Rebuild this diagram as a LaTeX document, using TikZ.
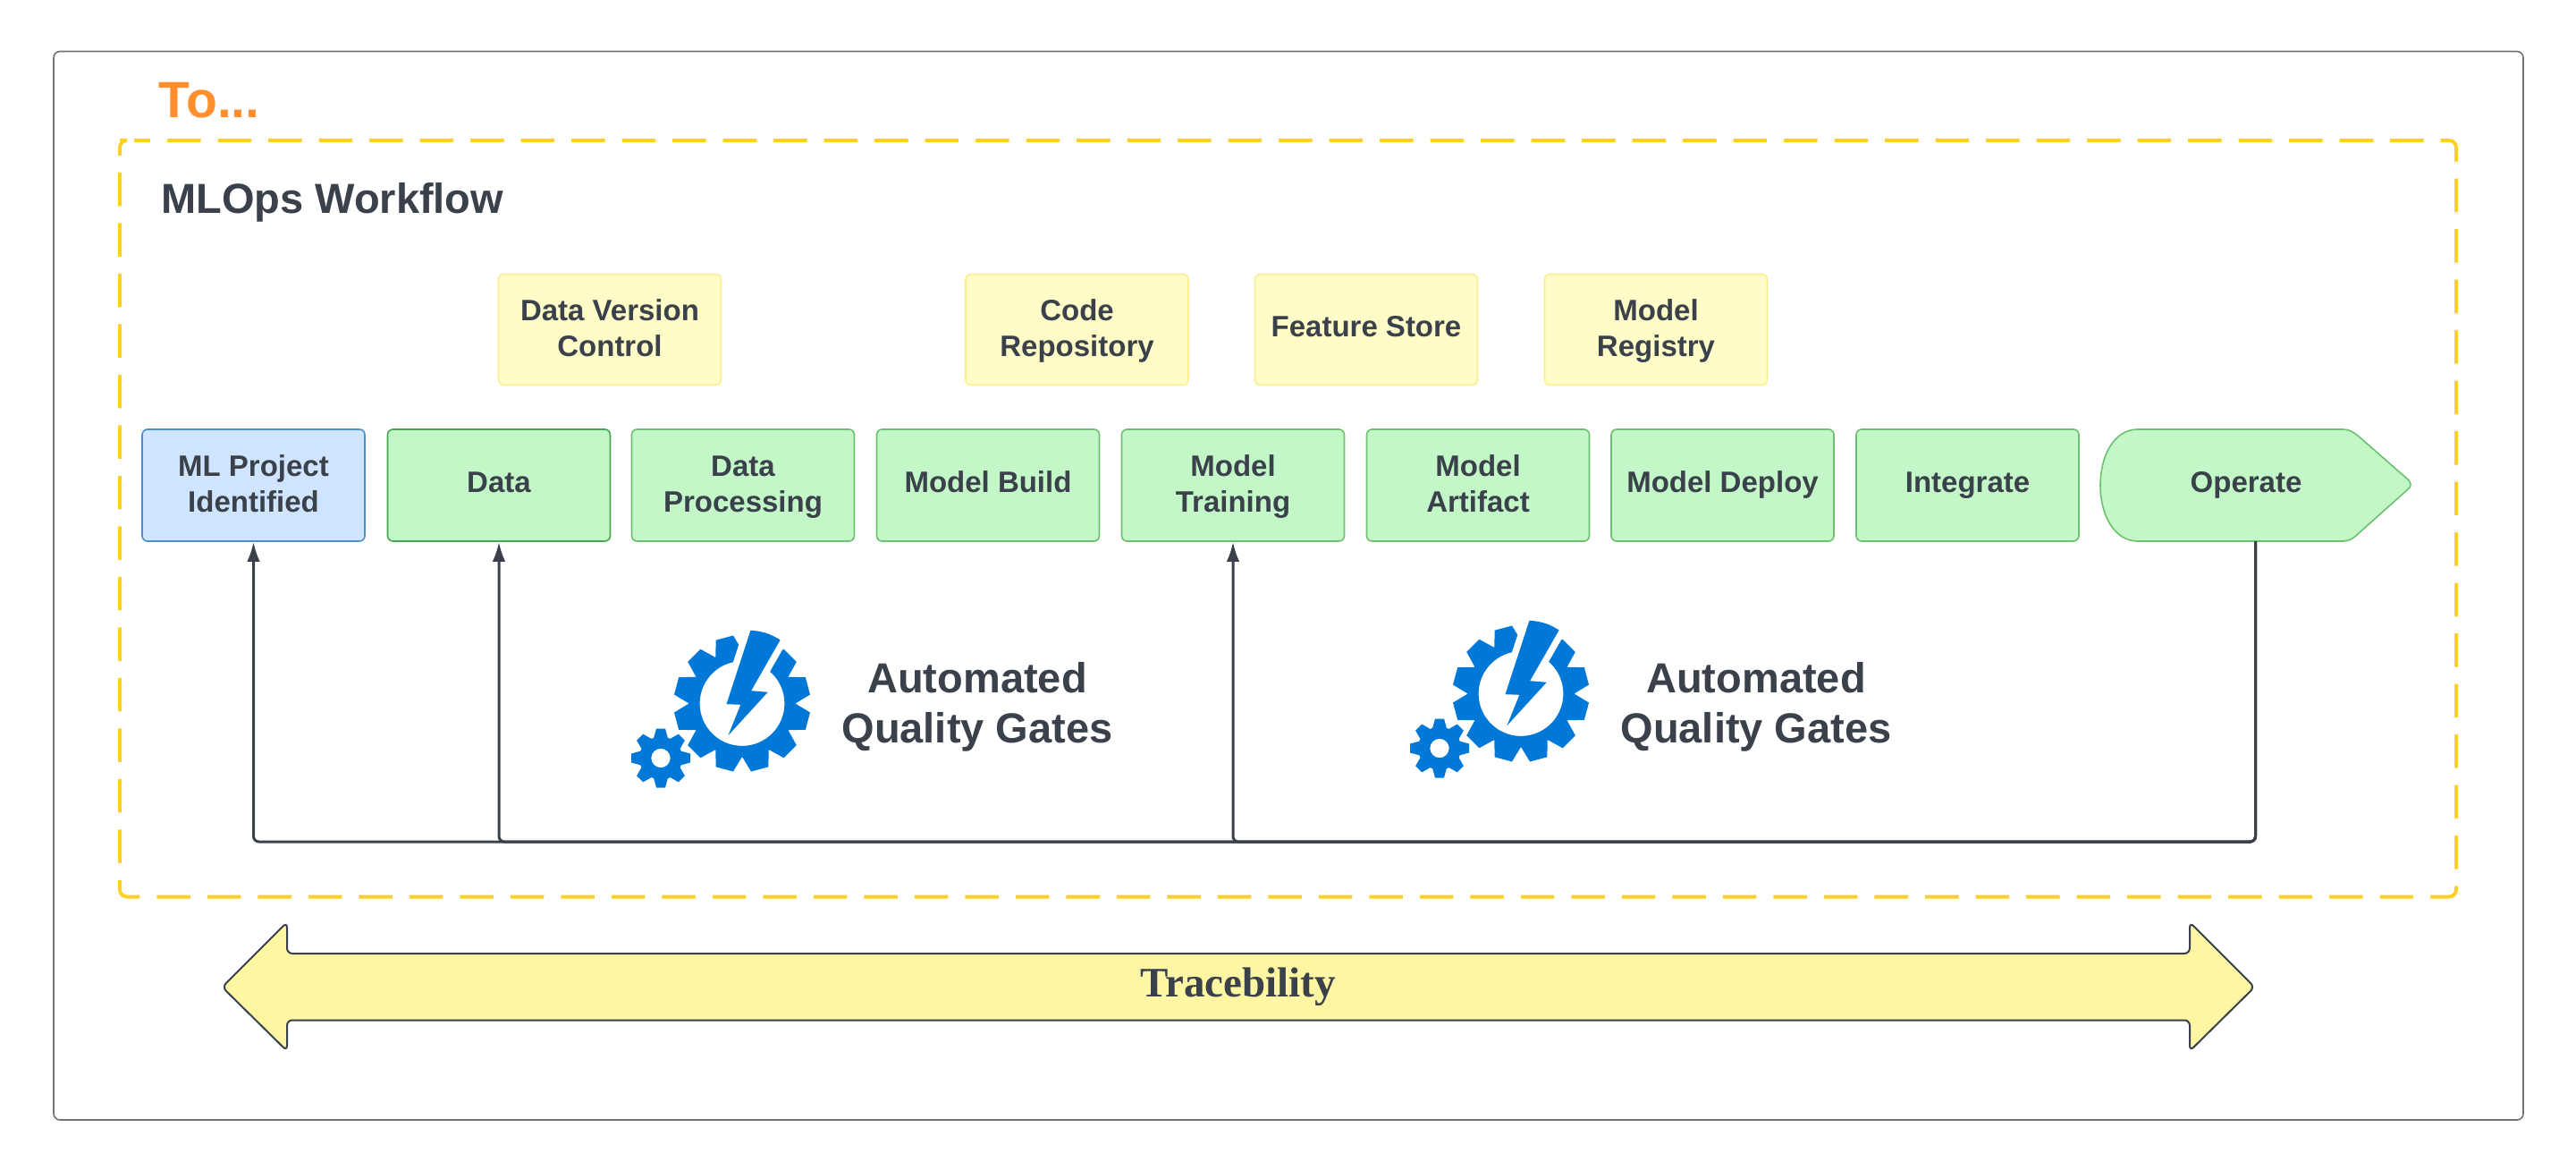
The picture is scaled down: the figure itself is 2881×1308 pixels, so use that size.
\documentclass[tikz,border=0pt]{standalone}
\usepackage{fontspec}
\setmainfont{Liberation Sans}
\newfontfamily\tracefont{Liberation Serif}
\usetikzlibrary{arrows.meta,backgrounds}
\definecolor{inkdark}{HTML}{3A414A}
\definecolor{greenfill}{HTML}{C3F7C8}
\definecolor{greenline}{HTML}{6CC070}
\definecolor{greendark}{HTML}{45A850}
\definecolor{bluefill}{HTML}{CFE4FF}
\definecolor{blueline}{HTML}{4A8FD0}
\definecolor{notefill}{HTML}{FFFCC8}
\definecolor{noteline}{HTML}{FBEE90}
\definecolor{dashyellow}{HTML}{FFCF24}
\definecolor{orangetitle}{HTML}{FF8F2E}
\definecolor{iconblue}{HTML}{0078D7}
\definecolor{tracefill}{HTML}{FFF6A4}
\newcommand\tallfirst{\rule{0pt}{32.5pt}}
\tikzset{
  labelfont/.style={text=inkdark,font=\fontsize{33}{40}\selectfont\bfseries,align=center,
    execute at begin node=\strut,execute at end node=\strut,inner sep=0pt},
  stepbox/.style={labelfont,draw=greenline,fill=greenfill,line width=1.6pt,rounded corners=6pt,
    minimum width=249pt,minimum height=125pt},
  notebox/.style={labelfont,draw=noteline,fill=notefill,line width=1.6pt,rounded corners=6pt,
    minimum width=249pt,minimum height=124pt},
  gatetext/.style={text=inkdark,font=\fontsize{47}{56}\selectfont\bfseries,align=center,
    execute at begin node=\strut,execute at end node=\strut,inner sep=0pt},
  flow/.style={draw=inkdark,line width=3pt,rounded corners=6pt},
  gearicon/.pic={
    \fill[iconblue,even odd rule] (0,0) circle[radius=60] (0,0) circle[radius=47.4];
    \foreach \a in {15,45,105,135,165,195,225,255,285,315,345}
      \fill[iconblue,rotate=\a] (57,-15.5) -- (76,-10) -- (76,10) -- (57,15.5) -- cycle;
    \filldraw[iconblue,draw=white,line width=15pt,line join=round]
      (9.4,-81.7) .. controls (25,-81) and (35,-76) .. (42.6,-71) -- (10.1,-14.3) -- (28.7,-12.7)
      -- (-15.6,35.7) -- (-1.7,1.3) -- (-17.5,0.7) -- cycle;
    \fill[iconblue]
      (9.4,-81.7) .. controls (25,-81) and (35,-76) .. (42.6,-71) -- (10.1,-14.3) -- (28.7,-12.7)
      -- (-15.6,35.7) -- (-1.7,1.3) -- (-17.5,0.7) -- cycle;
    \begin{scope}[shift={(-91,61)}]
      \fill[iconblue,even odd rule] (0,0) circle[radius=24] (0,0) circle[radius=10.7];
      \foreach \a in {0,45,...,315}
        \fill[iconblue,rotate=\a] (22,-8) -- (33,-5) -- (33,5) -- (22,8) -- cycle;
    \end{scope}
  }
}
\begin{document}
\begin{tikzpicture}[x=1pt,y=-1pt]
\useasboundingbox (0,0) rectangle (2881,1308);
% frames
\draw[draw=black!55,line width=1.6pt,rounded corners=7pt] (60,57.5) rectangle (2822,1252);
\draw[draw=dashyellow,line width=4pt,rounded corners=8pt,dash pattern=on 37.5pt off 19pt,dash phase=19.5pt]
  (142,157) -- (2747,157) -- (2747,1002.5) -- (134,1002.5) -- (134,157) -- cycle;
% titles
\node[anchor=base west,inner sep=0pt,text=orangetitle,font=\fontsize{57}{62}\selectfont\bfseries] (totitle) at (177.5,132) {To...};
\node[anchor=base west,inner sep=0pt,text=inkdark,font=\fontsize{47}{54}\selectfont\bfseries] (mltitle) at (180,239) {MLOps Workflow};
% tool boxes
\node[notebox] (dvc) at (682,368.5) {\tallfirst Data Version\\Control};
\node[notebox] (code) at (1204.5,368.5) {\tallfirst Code\\Repository};
\node[notebox] (fstore) at (1528,368.5) {Feature Store};
\node[notebox] (registry) at (1852,368.5) {\tallfirst Model\\Registry};
% workflow row
\node[stepbox,draw=blueline,fill=bluefill] (ml) at (283.5,542.5) {\tallfirst ML Project\\Identified};
\node[stepbox,draw=greendark] (data) at (558,542.5) {Data};
\node[stepbox] (proc) at (831,542.5) {\tallfirst Data\\Processing};
\node[stepbox] (build) at (1105,542.5) {Model Build};
\node[stepbox] (train) at (1379,542.5) {\tallfirst Model\\Training};
\node[stepbox] (artifact) at (1653,542.5) {\tallfirst Model\\Artifact};
\node[stepbox] (deploy) at (1926.5,542.5) {Model Deploy};
\node[stepbox] (integrate) at (2200.5,542.5) {Integrate};
\node[labelfont,minimum width=347pt,minimum height=125pt] (operate) at (2522.5,542.5) {\hspace*{-21pt}Operate};
\begin{scope}[on background layer]
\draw[draw=greenline,fill=greenfill,line width=1.6pt]
  (2391,480) -- (2620,480) .. controls (2627,480) and (2632,483) .. (2637,487)
  -- (2693,536) .. controls (2697,540) and (2697,544) .. (2693,547)
  -- (2637,597) .. controls (2632,602) and (2627,605) .. (2620,605)
  -- (2391,605) .. controls (2364,605) and (2349,575) .. (2349,542.5)
  .. controls (2349,510) and (2364,480) .. (2391,480) -- cycle;
\end{scope}
% feedback connectors
\coordinate (base) at (0,941);
\draw[flow,-{Latex[length=22pt,width=14.5pt]}] (operate.south) -- (operate.south |- base) -- (ml.south |- base) -- (ml.south);
\draw[flow,-{Latex[length=22pt,width=14.5pt]}] (operate.south) -- (operate.south |- base) -- (data.south |- base) -- (data.south);
\draw[flow,-{Latex[length=22pt,width=14.5pt]}] (operate.south) -- (operate.south |- base) -- (train.south |- base) -- (train.south);
% icons and gate labels
\pic at (830,786.5) {gearicon};
\pic at (1701,775.5) {gearicon};
\node[gatetext] (gateone) at (1093,793.5) {Automated\\Quality Gates};
\node[gatetext] (gatetwo) at (1964,793.5) {Automated\\Quality Gates};
% traceability arrow
\node[inner sep=0pt,text=inkdark,font=\fontsize{47}{54}\selectfont\tracefont\bfseries] (trace) at (1384.5,1103) {Tracebility};
\begin{scope}[on background layer]
\draw[draw=inkdark,fill=tracefill,line width=2pt,rounded corners=6pt]
  (248.5,1103.5) -- (321,1031) -- (321,1066) -- (2449,1066) -- (2449,1031) -- (2521.5,1103.5)
  -- (2449,1175) -- (2449,1140.5) -- (321,1140.5) -- (321,1175) -- cycle;
\end{scope}
\end{tikzpicture}
\end{document}
